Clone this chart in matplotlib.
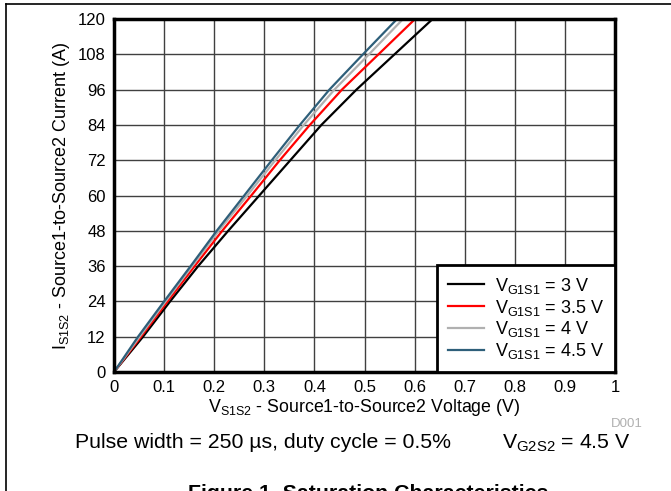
import matplotlib.pyplot as plt
from matplotlib.lines import Line2D

plt.rcParams['font.family'] = ['Liberation Sans', 'DejaVu Sans']

# I (A) levels and the V (V) each curve reaches there
current = [0, 12, 24, 36, 48, 60, 72, 84, 96, 108, 120]
v_3 = [0, 0.058, 0.112, 0.168, 0.228, 0.290, 0.352, 0.414, 0.484, 0.560, 0.636]
v_35 = [0, 0.054, 0.107, 0.161, 0.216, 0.274, 0.331, 0.391, 0.455, 0.528, 0.601]
v_4 = [0, 0.051, 0.103, 0.156, 0.209, 0.266, 0.322, 0.379, 0.440, 0.509, 0.577]
v_45 = [0, 0.048, 0.100, 0.153, 0.205, 0.260, 0.315, 0.371, 0.430, 0.497, 0.565]

labels = ['$\\mathregular{V_{G1S1}}$ = 3 V', '$\\mathregular{V_{G1S1}}$ = 3.5 V',
          '$\\mathregular{V_{G1S1}}$ = 4 V', '$\\mathregular{V_{G1S1}}$ = 4.5 V']
colors = ['#000000', '#ff0000', '#b0b0b0', '#2e5f7a']

xticks = [0, 0.1, 0.2, 0.3, 0.4, 0.5, 0.6, 0.7, 0.8, 0.9, 1]
yticks = [0, 12, 24, 36, 48, 60, 72, 84, 96, 108, 120]

W, H = 671, 491
fig = plt.figure(figsize=(W / 100, H / 100), dpi=100)
ax = fig.add_axes([114 / W, 1 - 372 / H, (615 - 114) / W, (372 - 19) / H])

for v, lab, c in zip([v_3, v_35, v_4, v_45], labels, colors):
    ax.plot(v, current, color=c, lw=1.6, label=lab)

ax.set_xlim(0, 1)
ax.set_ylim(0, 120)
ax.set_xticks(xticks)
ax.set_xticklabels([f'{t:g}' for t in xticks])
ax.set_yticks(yticks)
ax.tick_params(length=0, labelsize=12, pad=6, colors='black')
ax.grid(True, color='#404040', lw=1)
for s in ax.spines.values():
    s.set_linewidth(2.5)

ax.set_xlabel('$\\mathregular{V_{S1S2}}$ - Source1-to-Source2 Voltage (V)', fontsize=12.8, labelpad=1)
ax.set_ylabel('$\\mathregular{I_{S1S2}}$ - Source1-to-Source2 Current (A)', fontsize=13, labelpad=4)

leg = ax.legend(loc='lower right', fontsize=13, frameon=True, fancybox=False,
                borderaxespad=0, handlelength=2.0, handletextpad=0.6, labelspacing=0.1,
                borderpad=0.6, framealpha=1)
leg.get_frame().set_edgecolor('black')
leg.get_frame().set_linewidth(2)

fig.text(643 / W, 1 - 424 / H, 'D001', color='#b0b0b0', fontsize=9.5, ha='right', va='center')
fig.text(75 / W, 1 - 443 / H, 'Pulse width = 250 µs, duty cycle = 0.5%', fontsize=15.3, va='center')
fig.text(631 / W, 1 - 443 / H, '$\\mathregular{V_{G2S2}}$ = 4.5 V', fontsize=15.3, ha='right', va='center')
fig.text(368 / W, 1 - 484 / H, 'Figure 1. Saturation Characteristics', fontsize=15.3,
         fontweight='bold', ha='center', va='top')

# figure frame
fig.add_artist(Line2D([6 / W, 1], [1 - 4 / H, 1 - 4 / H], color='black', lw=1.2))
fig.add_artist(Line2D([6 / W, 6 / W], [0, 1 - 4 / H], color='black', lw=1.2))

fig.savefig('out.png', dpi=100)
